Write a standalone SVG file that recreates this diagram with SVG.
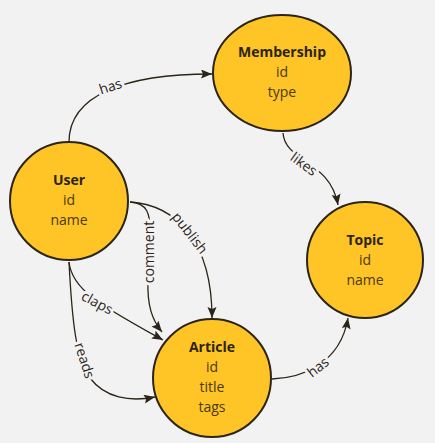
<svg xmlns="http://www.w3.org/2000/svg" width="435" height="443" viewBox="0 0 435 443">
<defs>
<style>
.node{fill:#ffc425;stroke:#2b2418;stroke-width:2}
.title{font-family:"Open Sans","Liberation Sans",sans-serif;font-size:14px;font-weight:bold;fill:#2b2414;text-anchor:middle}
.field{font-family:"Open Sans","Liberation Sans",sans-serif;font-size:14px;fill:#4a3a14;text-anchor:middle}
.edge{fill:none;stroke:#2b2418;stroke-width:1.3}
.lbl{font-family:"Open Sans","Liberation Sans",sans-serif;font-size:14px;fill:#2b2418;text-anchor:middle;stroke:#f2f2f2;stroke-width:6;paint-order:stroke;stroke-linejoin:round}
</style>
<marker id="arr" markerUnits="userSpaceOnUse" markerWidth="12" markerHeight="10" refX="11" refY="4.5" orient="auto">
<path d="M0,0 L11,4.5 L0,9 L2,4.5 z" fill="#2b2418"/>
</marker>
</defs>
<rect width="435" height="443" fill="#f2f2f2"/>
<g id="connectors">
<path class="edge" marker-end="url(#arr)" d="M69 142 C69 95 125 74 212 74"/>
<text class="lbl" transform="translate(112 91) rotate(-18)">has</text>
<path class="edge" marker-end="url(#arr)" d="M283 133 C285 162 330 160 338 205"/>
<text class="lbl" transform="translate(301 168) rotate(36)">likes</text>
<path class="edge" marker-end="url(#arr)" d="M130 202 C175 205 212 240 212 318"/>
<text class="lbl" transform="translate(186 236) rotate(52)">publish</text>
<path class="edge" marker-end="url(#arr)" d="M130 202 C148 203 150 215 150 230 L148 280 C147 305 152 320 162 332"/>
<text class="lbl" transform="translate(154 252) rotate(-90)">comment</text>
<path class="edge" marker-end="url(#arr)" d="M69 262 C72 290 100 305 163 340"/>
<text class="lbl" transform="translate(95 307) rotate(28)">claps</text>
<path class="edge" marker-end="url(#arr)" d="M69 262 C72 320 76 360 90 378 C105 398 130 402 155 397"/>
<text class="lbl" transform="translate(80 362) rotate(72)">reads</text>
<path class="edge" marker-end="url(#arr)" d="M272 379 C300 378 340 365 348 318"/>
<text class="lbl" transform="translate(321 371) rotate(-38)">has</text>
</g>
<g id="membership">
<ellipse class="node" cx="282" cy="73" rx="69" ry="58"/>
<text class="title" x="282" y="57">Membership</text>
<text class="field" x="282" y="77">id</text>
<text class="field" x="282" y="97">type</text>
</g>
<g id="user">
<circle class="node" cx="69" cy="201" r="59"/>
<text class="title" x="69" y="185">User</text>
<text class="field" x="69" y="205">id</text>
<text class="field" x="69" y="225">name</text>
</g>
<g id="topic">
<circle class="node" cx="365" cy="260" r="58"/>
<text class="title" x="365" y="245">Topic</text>
<text class="field" x="365" y="265">id</text>
<text class="field" x="365" y="285">name</text>
</g>
<g id="article">
<circle class="node" cx="212" cy="378" r="59"/>
<text class="title" x="212" y="352">Article</text>
<text class="field" x="212" y="372">id</text>
<text class="field" x="212" y="392">title</text>
<text class="field" x="212" y="412">tags</text>
</g>
</svg>
